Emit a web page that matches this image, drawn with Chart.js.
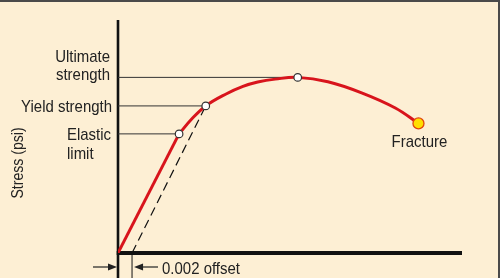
<!DOCTYPE html>
<html>
<head>
<meta charset="utf-8">
<script src="https://cdn.jsdelivr.net/npm/chart.js@4/dist/chart.umd.min.js"></script>
<style>
  html, body { margin: 0; padding: 0; background: #fdefd4; }
  canvas { display: block; }
</style>
</head>
<body>
<canvas id="myChart" width="500" height="278"></canvas>
<script>
// stress-strain curve (strain in in/in, stress in ksi)
const strain = [0, 0.0087, 0.0105, 0.0125, 0.0154, 0.0178, 0.0199, 0.0224, 0.0256, 0.0299, 0.0347, 0.0395, 0.0428];
const stress = [0, 40.9, 46.0, 50.5, 54.6, 57.2, 58.7, 59.7, 60.3, 58.8, 55.0, 49.8, 44.5];

const elasticIdx = 1;
const yieldIdx = 3;
const ultimateIdx = 8;
const fractureIdx = 12;

const offsetStrain = 0.002;
const offsetLabel = '0.002 offset';
const yTitle = 'Stress (psi)';

const FAMILY = '"Liberation Sans", Arial, sans-serif';
const SQUEEZE = 0.88; // the original type is a condensed face
const RED = '#d8141c';
const INK = '#222';

const pt = (i) => ({ x: strain[i], y: stress[i] });

function leader(i) {
  return {
    data: [{ x: 0, y: stress[i] }, pt(i)],
    showLine: true,
    borderColor: '#333',
    borderWidth: 1,
    pointRadius: 0,
    order: 5
  };
}

const ctx = document.getElementById('myChart').getContext('2d');

const chartData = {
  datasets: [
    leader(elasticIdx),
    leader(yieldIdx),
    leader(ultimateIdx),
    {
      // 0.002 offset line, parallel to the elastic part
      data: [{ x: offsetStrain, y: 0 }, pt(yieldIdx)],
      showLine: true,
      borderColor: '#111',
      borderWidth: 1.2,
      borderDash: [9, 5],
      pointRadius: 0,
      order: 4
    },
    {
      data: strain.slice(0, elasticIdx + 1).map((_, i) => pt(i)),
      showLine: true,
      borderColor: RED,
      borderWidth: 3,
      tension: 0,
      pointRadius: 0,
      order: 3
    },
    {
      data: strain.slice(elasticIdx).map((_, i) => pt(i + elasticIdx)),
      showLine: true,
      borderColor: RED,
      borderWidth: 3,
      tension: 0.4,
      pointRadius: 0,
      order: 2
    },
    {
      data: [pt(elasticIdx), pt(yieldIdx), pt(ultimateIdx)],
      showLine: false,
      pointRadius: 3.8,
      pointBackgroundColor: '#ffffff',
      pointBorderColor: '#333',
      pointBorderWidth: 1.2,
      order: 1
    },
    {
      data: [pt(fractureIdx)],
      showLine: false,
      pointRadius: 5.5,
      pointBackgroundColor: '#ffdf00',
      pointBorderColor: '#e2450c',
      pointBorderWidth: 1.3,
      order: 0
    }
  ]
};

function line(c, x1, y1, x2, y2) {
  c.beginPath();
  c.moveTo(x1, y1);
  c.lineTo(x2, y2);
  c.stroke();
}

function arrowHead(c, x, y, dir) {
  c.beginPath();
  c.moveTo(x, y);
  c.lineTo(x - dir * 9, y - 3.5);
  c.lineTo(x - dir * 9, y + 3.5);
  c.closePath();
  c.fill();
}

function label(c, s, x, y, align) {
  c.save();
  c.translate(x, y);
  c.scale(SQUEEZE, 1);
  c.textAlign = align;
  c.fillText(s, 0, 0);
  c.restore();
}

const diagram = {
  id: 'diagram',
  beforeDraw(chart) {
    const c = chart.ctx;
    c.save();
    c.fillStyle = '#fdefd4';
    c.fillRect(0, 0, chart.width, chart.height);
    // frame on top and right
    c.strokeStyle = '#4a4a4a';
    c.lineWidth = 2;
    line(c, 0, 1, chart.width, 1);
    line(c, chart.width - 1, 0, chart.width - 1, chart.height);
    c.restore();
  },
  beforeDatasetsDraw(chart) {
    const c = chart.ctx;
    const xs = chart.scales.x, ys = chart.scales.y;
    const x0 = xs.getPixelForValue(0);
    const y0 = ys.getPixelForValue(0);
    c.save();
    c.strokeStyle = '#111';
    c.lineWidth = 2.6;
    line(c, x0, ys.getPixelForValue(ys.max), x0, chart.height);
    c.lineWidth = 3.8;
    line(c, x0 - 1.3, y0, xs.getPixelForValue(xs.max), y0);
    // offset dimension
    const xo = xs.getPixelForValue(offsetStrain);
    c.lineWidth = 1;
    line(c, xo, y0, xo, chart.height);
    c.restore();
  },
  afterDraw(chart) {
    const c = chart.ctx;
    const xs = chart.scales.x, ys = chart.scales.y;
    const px = (i) => xs.getPixelForValue(strain[i]);
    const py = (i) => ys.getPixelForValue(stress[i]);
    const x0 = xs.getPixelForValue(0);
    const xo = xs.getPixelForValue(offsetStrain);
    c.save();
    c.fillStyle = INK;
    c.font = '17px ' + FAMILY;
    c.textBaseline = 'alphabetic';

    label(c, 'Ultimate', x0 - 8, py(ultimateIdx) - 15, 'right');
    label(c, 'strength', x0 - 8, py(ultimateIdx) + 3, 'right');
    label(c, 'Yield strength', x0 - 6, py(yieldIdx) + 6, 'right');
    label(c, 'Elastic', x0 - 51, py(elasticIdx) + 6, 'left');
    label(c, 'limit', x0 - 51, py(elasticIdx) + 25, 'left');

    label(c, 'Fracture', px(fractureIdx) + 1, py(fractureIdx) + 24, 'center');

    label(c, offsetLabel, xo + 30, chart.height - 4, 'left');

    // arrows pointing at the offset gap
    const ya = chart.height - 11;
    c.strokeStyle = INK;
    c.lineWidth = 1.2;
    line(c, x0 - 25, ya, x0 - 6, ya);
    arrowHead(c, x0 - 1, ya, 1);
    line(c, xo + 6, ya, xo + 26, ya);
    arrowHead(c, xo + 2, ya, -1);

    // y title
    c.font = '16px ' + FAMILY;
    c.translate(19, 163);
    c.rotate(-Math.PI / 2);
    c.textBaseline = 'middle';
    label(c, yTitle, 0, 0, 'center');
    c.restore();
  }
};

const config = {
  type: 'scatter',
  data: chartData,
  options: {
    responsive: false,
    animation: false,
    layout: { padding: { left: 118, right: 38, top: 20, bottom: 25 } },
    plugins: { legend: { display: false }, tooltip: { enabled: false } },
    scales: {
      x: { type: 'linear', display: false, min: 0, max: 0.049 },
      y: { type: 'linear', display: false, min: 0, max: 80 }
    }
  },
  plugins: [diagram]
};

const myChart = new Chart(ctx, config);
</script>
</body>
</html>
